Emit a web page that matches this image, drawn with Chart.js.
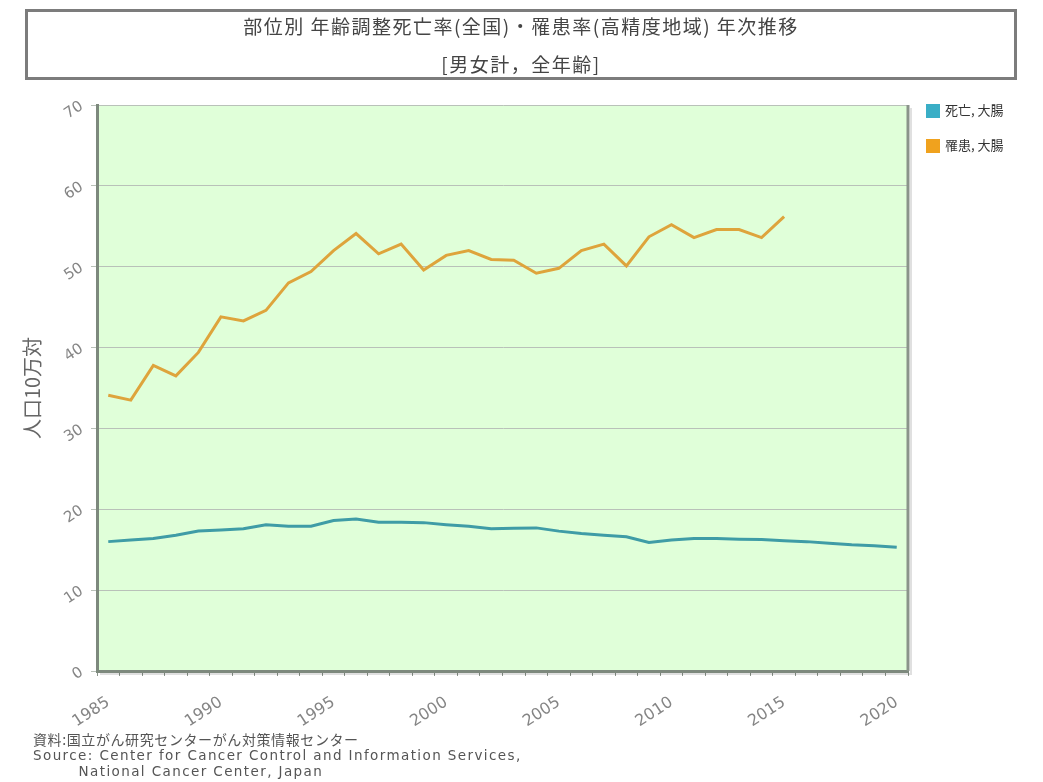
<!DOCTYPE html>
<html>
<head>
<meta charset="utf-8">
<script src="https://cdn.jsdelivr.net/npm/chart.js@4/dist/chart.umd.min.js"></script>
<style>
  html, body { margin: 0; padding: 0; background: #fff; }
  #wrap { position: relative; width: 1043px; height: 782px; overflow: hidden; }
  #c { position: absolute; left: 0; top: 0; }
  #titlebox { position: absolute; left: 25px; top: 9px; width: 986px; height: 65px;
    border: 3px solid #7c7c7c; font-family: "Noto Sans CJK JP", sans-serif; color: #444;
    font-size: 19px; letter-spacing: 1.5px; text-align: center; line-height: 24px; }
  #titlebox .l1 { position: absolute; left: 0; right: 0; top: 2px; }
  #titlebox .l2 { position: absolute; left: 0; right: 0; top: 40px; }
  #legend { position: absolute; left: 926px; top: 103px; font-family: "Noto Sans CJK JP", sans-serif;
    font-size: 13px; color: #333; }
  #legend .it { position: relative; height: 35px; }
  #legend .sw { position: absolute; left: 0; top: 1px; width: 14px; height: 14px; }
  #legend .tx { position: absolute; left: 19px; top: -3px; white-space: nowrap; }
  #foot { position: absolute; left: 33px; top: 731px; font-family: "DejaVu Sans", sans-serif;
    font-size: 13.5px; line-height: 16px; color: #555; white-space: pre; letter-spacing: 1.4px; }
  #foot .jp { font-family: "Noto Sans CJK JP", sans-serif; font-size: 14px; letter-spacing: 0.6px; }
</style>
</head>
<body>
<div id="wrap">
  <canvas id="c" width="1043" height="782"></canvas>
  <div id="titlebox"><div class="l1"></div><div class="l2"></div></div>
  <div id="legend"></div>
  <div id="foot"></div>
</div>
<script>
// ---- data ----
const titleLine1 = "部位別 年齢調整死亡率(全国)・罹患率(高精度地域) 年次推移";
const titleLine2 = "[男女計，全年齢]";
const yAxisTitle = "人口10万対";
const sourceLines = ["資料:国立がん研究センターがん対策情報センター",
                     "Source: Center for Cancer Control and Information Services,",
                     "        National Cancer Center, Japan"];

const years = ["1985","1986","1987","1988","1989","1990","1991","1992","1993","1994",
               "1995","1996","1997","1998","1999","2000","2001","2002","2003","2004",
               "2005","2006","2007","2008","2009","2010","2011","2012","2013","2014",
               "2015","2016","2017","2018","2019","2020"];
const labeledYears = ["1985","1990","1995","2000","2005","2010","2015","2020"];

const mortalityLabel = "死亡, 大腸";
const mortality = [16.0, 16.2, 16.4, 16.8, 17.3, 17.45, 17.6, 18.1, 17.9, 17.9,
                   18.6, 18.8, 18.4, 18.4, 18.35, 18.1, 17.9, 17.6, 17.65, 17.7,
                   17.3, 17.0, 16.8, 16.6, 15.9, 16.2, 16.4, 16.4, 16.3, 16.25,
                   16.1, 16.0, 15.8, 15.6, 15.5, 15.3];

const incidenceLabel = "罹患, 大腸";
const incidence = [34.1, 33.5, 37.8, 36.5, 39.4, 43.8, 43.3, 44.6, 48.0, 49.4,
                   52.0, 54.1, 51.6, 52.8, 49.6, 51.4, 52.0, 50.9, 50.8, 49.2,
                   49.8, 52.0, 52.8, 50.1, 53.7, 55.2, 53.6, 54.6, 54.6, 53.6,
                   56.2];

const yMin = 0, yMax = 70, yStep = 10;

// ---- styles ----
const mortalityLine = "#3f9ca6", mortalitySwatch = "#3aaec6";
const incidenceLine = "#dea43c", incidenceSwatch = "#f0a21e";

// ---- html text ----
document.querySelector('#titlebox .l1').textContent = titleLine1;
document.querySelector('#titlebox .l2').textContent = titleLine2;
const foot = document.getElementById('foot');
sourceLines.forEach((s, i) => {
  const d = document.createElement('div');
  d.textContent = s;
  if (i === 0) d.className = 'jp';
  foot.appendChild(d);
});

const plotBg = {
  id: 'plotBg',
  beforeDraw(chart) {
    const {ctx, chartArea: a} = chart;
    ctx.save();
    ctx.fillStyle = '#e0ffd9';
    ctx.fillRect(a.left, a.top, a.right - a.left, a.bottom - a.top);
    ctx.restore();
  },
  afterDraw(chart) {
    const {ctx, chartArea: a} = chart;
    ctx.save();
    ctx.strokeStyle = '#8a948a';
    ctx.lineWidth = 3;
    ctx.beginPath();
    ctx.moveTo(a.right, a.top);
    ctx.lineTo(a.right, a.bottom);
    ctx.stroke();
    ctx.strokeStyle = 'rgba(0,0,0,0.12)';
    ctx.lineWidth = 2;
    ctx.beginPath();
    ctx.moveTo(a.right + 3, a.top + 3);
    ctx.lineTo(a.right + 3, a.bottom + 3);
    ctx.lineTo(a.left + 3, a.bottom + 3);
    ctx.stroke();
    ctx.restore();
  }
};

const chart = new Chart(document.getElementById('c'), {
  type: 'line',
  data: {
    labels: years,
    datasets: [
      { label: mortalityLabel, data: mortality, borderColor: mortalityLine,
        backgroundColor: mortalitySwatch, borderWidth: 3, pointRadius: 0, tension: 0 },
      { label: incidenceLabel, data: incidence, borderColor: incidenceLine,
        backgroundColor: incidenceSwatch, borderWidth: 3, pointRadius: 0, tension: 0 }
    ]
  },
  options: {
    responsive: false,
    animation: false,
    layout: { padding: { top: 105, right: 135, left: 0, bottom: 0 } },
    plugins: { legend: { display: false }, title: { display: false }, tooltip: { enabled: false } },
    scales: {
      x: {
        type: 'category',
        offset: true,
        afterFit(s) { s.height = 111; },
        border: { display: true, color: '#7d897d', width: 3 },
        grid: { display: true, drawOnChartArea: false, drawTicks: true, tickLength: 5,
                color: '#8a948a', offset: true },
        ticks: {
          autoSkip: false, minRotation: 33, maxRotation: 33, padding: 17,
          color: '#858585', font: { family: 'DejaVu Sans', size: 16 },
          callback(v) { const l = this.getLabelForValue(v); return labeledYears.includes(l) ? l : ''; }
        }
      },
      y: {
        min: yMin, max: yMax,
        afterFit(s) { s.width = 97; },
        border: { display: true, color: '#7d897d', width: 3 },
        grid: { color: '#b9c1b9', lineWidth: 1, tickLength: 6, drawTicks: true },
        title: { display: true, text: yAxisTitle, color: '#666',
                 font: { family: 'Noto Sans CJK JP', size: 20 }, padding: { top: 20, bottom: 0 } },
        ticks: { stepSize: yStep, minRotation: 33, maxRotation: 33, padding: 9,
                 color: '#858585', font: { family: 'DejaVu Sans', size: 15 } }
      }
    }
  },
  plugins: [plotBg]
});

// legend from datasets
const legend = document.getElementById('legend');
chart.data.datasets.forEach(ds => {
  const it = document.createElement('div'); it.className = 'it';
  const sw = document.createElement('div'); sw.className = 'sw'; sw.style.background = ds.backgroundColor;
  const tx = document.createElement('div'); tx.className = 'tx'; tx.textContent = ds.label;
  it.appendChild(sw); it.appendChild(tx); legend.appendChild(it);
});
</script>
</body>
</html>
